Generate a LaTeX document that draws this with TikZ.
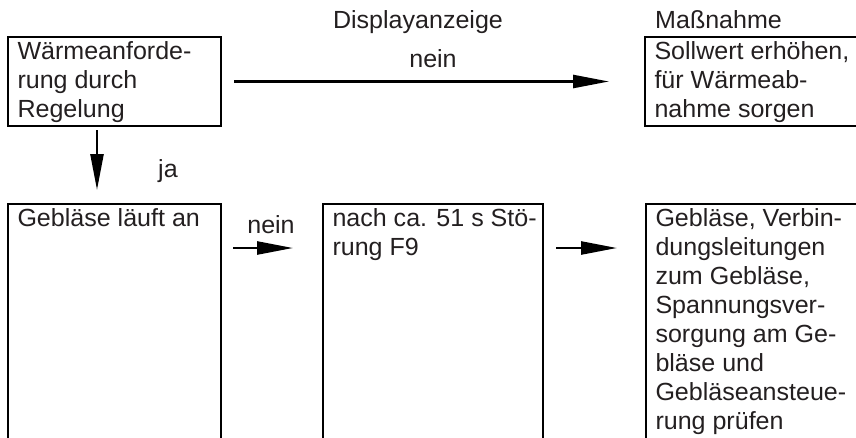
\documentclass[tikz,border=0pt]{standalone}
\usepackage{fontspec}
\setmainfont[FakeStretch=1.01]{Liberation Sans}
\usetikzlibrary{arrows.meta}
\definecolor{txtcol}{HTML}{231F20}
\newcommand\boxtext[3]{\parbox[t][#2][t]{#1}{\raggedright\strut #3}}
\begin{document}
\begin{tikzpicture}[x=1pt,y=-1pt,
  fnt/.style={font=\fontsize{24.8}{29}\selectfont},
  box/.style={fnt, draw=black, line width=2pt, inner xsep=9.5pt, inner ysep=2.5pt,
    outer sep=0pt, anchor=north west, text=txtcol},
  lbl/.style={fnt, text=txtcol, inner sep=0pt},
  arr/.style={line width=2.5pt, -{Triangle[length=36pt,width=13pt]}}]
\useasboundingbox (0,0) rectangle (856,437);
\node[box] (A) at (8,37) {\boxtext{194pt}{84pt}{Wärmeanforde-\\rung durch\\Regelung}};
\node[box] (B) at (645,37) {\boxtext{260pt}{84pt}{Sollwert erhöhen,\\für Wärmeab-\\nahme sorgen}};
\node[box] (C) at (8,204) {\boxtext{194pt}{300pt}{Gebläse läuft an}};
\node[box] (D) at (323,204) {\boxtext{201pt}{300pt}{\mbox{nach ca. 51 s Stö-}\\rung F9}};
\node[box] (E) at (646,204) {\boxtext{260pt}{300pt}{Gebläse, Verbin-\\dungsleitungen\\zum Gebläse,\\Spannungsver-\\sorgung am Ge-\\bläse und\\Gebläseansteue-\\rung prüfen}};
\node[lbl, anchor=base] (disp) at (418,28) {Displayanzeige};
\node[lbl, anchor=base west] (mass) at (655,28) {Maßnahme};
\node[lbl, anchor=base] (n1) at (433,67) {nein};
\node[lbl, anchor=base west] (ja) at (158,177) {ja};
\node[lbl, anchor=base] (n2) at (271,233) {nein};
\coordinate (d1) at ([xshift=89pt]A.south west);
\coordinate (d2) at ([xshift=89pt]C.north west);
\coordinate (c1) at ([yshift=-44pt]C.north east);
\coordinate (c2) at ([yshift=-44pt]D.north west);
\coordinate (c3) at ([yshift=-44pt]D.north east);
\coordinate (c4) at ([yshift=-44pt]E.north west);
\draw[arr, shorten <=13pt, shorten >=36pt] (A.east) -- (B.west);
\draw[arr, shorten <=4pt, shorten >=14pt] (d1) -- (d2);
\draw[arr, shorten <=12pt, shorten >=30pt] (c1) -- (c2);
\draw[arr, shorten <=13pt, shorten >=29pt] (c3) -- (c4);
\end{tikzpicture}
\end{document}
